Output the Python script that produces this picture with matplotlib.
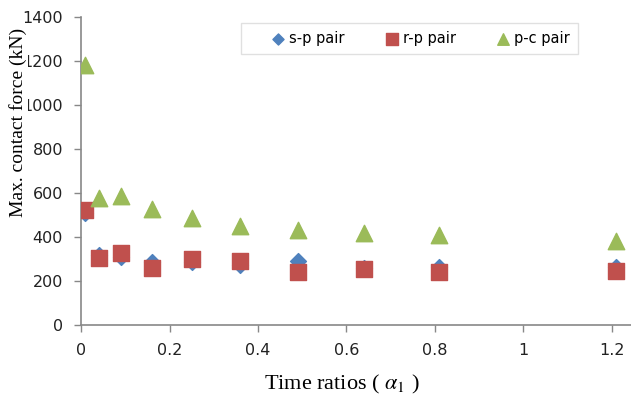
import matplotlib.pyplot as plt

# Time ratios (alpha_1) and peak contact forces for each gear pair
time_ratio = [0.01, 0.04, 0.09, 0.16, 0.25, 0.36, 0.49, 0.64, 0.81, 1.21]
sp_force = [508, 318, 308, 286, 288, 272, 290, 257, 263, 263]
rp_force = [522, 304, 327, 259, 299, 290, 240, 254, 240, 245]
pc_force = [1182, 576, 585, 526, 485, 449, 431, 417, 410, 381]

x_ticks = [0, 0.2, 0.4, 0.6, 0.8, 1, 1.2]
x_tick_labels = ["0", "0.2", "0.4", "0.6", "0.8", "1", "1.2"]
y_ticks = [0, 200, 400, 600, 800, 1000, 1200, 1400]

plt.rcParams["mathtext.fontset"] = "stix"

fig = plt.figure(figsize=(6.31, 3.99), dpi=100)
ax = fig.add_axes([0.1284, 0.1855, 0.8716, 0.7731])

ax.scatter(time_ratio, sp_force, marker="D", s=65, color="#4F81BD", label="s-p pair", zorder=3)
ax.scatter(time_ratio, rp_force, marker="s", s=130, color="#C0504D", label="r-p pair", zorder=4)
ax.scatter(time_ratio, pc_force, marker="^", s=140, color="#9BBB59", label="p-c pair", zorder=5)

ax.set_xlim(0, 1.243)
ax.set_ylim(0, 1400)
ax.set_xticks(x_ticks)
ax.set_xticklabels(x_tick_labels)
ax.set_yticks(y_ticks)

for side in ["top", "right"]:
    ax.spines[side].set_visible(False)
for side in ["left", "bottom"]:
    ax.spines[side].set_color("#888888")
    ax.spines[side].set_linewidth(1.2)
ax.tick_params(direction="out", length=5, width=1, color="#888888",
               labelsize=11.5, labelcolor="#222222", pad=8)

ax.set_xlabel(r"Time ratios ( $\alpha_1$ )", family="Liberation Serif", fontsize=16)
ax.xaxis.set_label_coords(0.4745, -0.156)
# the y label sits on a white box over the left end of the tick labels
ax.set_ylabel("Max. contact force (kN)", family="Liberation Serif", fontsize=14,
              bbox=dict(facecolor="white", edgecolor="none", pad=1))
ax.yaxis.set_label_coords(-0.098, 0.658)

leg = ax.legend(loc="upper left", bbox_to_anchor=(0.291, 0.979), borderaxespad=0, ncol=3,
                frameon=True, fancybox=False, fontsize=10.5, handletextpad=-1.25,
                handlelength=4.0, columnspacing=1.25, borderpad=0.55, markerscale=0.7)
leg.get_frame().set_edgecolor("#D9D9D9")
leg.get_frame().set_linewidth(1.0)

fig.savefig("out.png", dpi=100)
